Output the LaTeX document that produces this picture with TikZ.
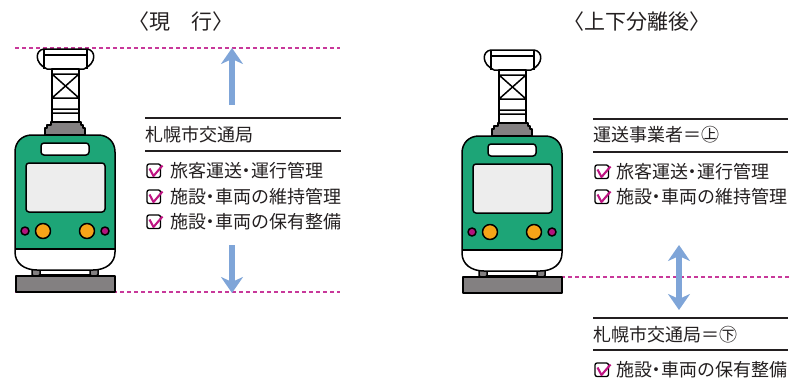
\documentclass[tikz,border=0pt]{standalone}
\usepackage{fontspec}
\newfontfamily\jp{Noto Sans CJK JP}
\newfontfamily\jphalt[RawFeature=+halt]{Noto Sans CJK JP}
\usetikzlibrary{arrows.meta}

\definecolor{tramgreen}{RGB}{29,165,119}
\definecolor{tramgrey}{RGB}{131,128,129}
\definecolor{lamporange}{RGB}{246,164,24}
\definecolor{lampmagenta}{RGB}{178,20,126}
\definecolor{glass}{RGB}{237,237,237}
\definecolor{guidepink}{RGB}{200,56,154}
\definecolor{arrowblue}{RGB}{127,165,216}
\definecolor{ink}{RGB}{35,31,32}
\definecolor{tick}{RGB}{190,20,130}

\tikzset{
  outline/.style={draw=black, line width=1.5pt, line join=round},
  guide/.style={draw=guidepink, line width=1.4pt, dash pattern=on 4pt off 3pt},
  movearrow/.style={draw=arrowblue, line width=6pt,
    -{Stealth[length=16pt,width=22pt,inset=5pt]}},
  bothways/.style={draw=arrowblue, line width=6pt,
    {Stealth[length=16pt,width=22pt,inset=5pt]}-{Stealth[length=16pt,width=22pt,inset=5pt]}},
  itemtext/.style={font=\jphalt\fontsize{18}{18}\selectfont, text=ink, inner sep=0pt, anchor=west},
  headtext/.style={font=\jp\fontsize{18}{18}\selectfont, text=ink, inner sep=0pt, anchor=west},
  titletext/.style={font=\jphalt\fontsize{21}{21}\selectfont, text=ink, inner sep=0pt},
  rule/.style={draw=ink, line width=1.2pt},
  checkbox/.pic={
    \draw[black, line width=1.3pt, rounded corners=2pt] (0,0) rectangle (13.5,13.5);
    \draw[tick, line width=2.1pt, line join=round] (2.5,4.5) -- (6.5,12) -- (15.5,1.5);
  },
  tram/.pic={
    % pantograph head
    \draw[outline, fill=white] (44,49) .. controls (35,50) and (34,63) .. (47,69)
      -- (84,69) .. controls (97,63) and (96,50) .. (87,49) -- cycle;
    \draw[outline] (44,49) -- (44,69) (87,49) -- (87,69) (44,55) -- (87,55);
    % lattice mast
    \draw[outline, fill=white] (52,69) rectangle (79,122);
    \draw[outline] (52,74) -- (79,74) (52,98) -- (79,98)
      (52,109) -- (79,109) (52,113) -- (79,113)
      (52,74) -- (79,98) (79,74) -- (52,98);
    % stepped base
    \draw[outline, fill=tramgrey] (51,122) -- (81,122) -- (81,125) -- (83,125) -- (83,128)
      -- (85,128) -- (85,135) -- (45,135) -- (45,128) -- (47,128) -- (47,125)
      -- (51,125) -- cycle;
    % bogie strip and wheels
    \draw[outline, fill=white] (36,269) rectangle (94,275);
    \draw[outline, fill=tramgrey, rounded corners=1.5pt] (32,266) rectangle (40,276);
    \draw[outline, fill=tramgrey, rounded corners=1.5pt] (90,266) rectangle (98,276);
    % body: green upper part, white skirt
    \fill[tramgreen] (15,249) -- (15,152)
      .. controls (15,142) and (22,135) .. (32,135) -- (98,135)
      .. controls (108,135) and (115,142) .. (115,152) -- (115,249) -- cycle;
    \fill[white] (15,249) -- (15,252) .. controls (15,263) and (24,270) .. (37,270)
      -- (93,270) .. controls (106,270) and (115,263) .. (115,252) -- (115,249) -- cycle;
    \draw[outline] (15,249) -- (15,152)
      .. controls (15,142) and (22,135) .. (32,135) -- (98,135)
      .. controls (108,135) and (115,142) .. (115,152) -- (115,252)
      .. controls (115,263) and (106,270) .. (93,270) -- (37,270)
      .. controls (24,270) and (15,263) .. (15,252) -- cycle;
    \draw[outline] (15,249) -- (115,249);
    % destination sign and windscreen
    \draw[outline, fill=white, rounded corners=3pt] (41,143) rectangle (89,155);
    \draw[outline, fill=glass, rounded corners=3pt] (26,163) rectangle (105,212);
    % lamps
    \draw[outline, fill=lampmagenta] (25,231) circle[radius=4];
    \draw[outline, fill=lamporange] (43,231) circle[radius=7.5];
    \draw[outline, fill=lamporange] (87,231) circle[radius=7.5];
    \draw[outline, fill=lampmagenta] (105,231) circle[radius=4];
    % track block
    \draw[outline, fill=tramgrey] (16,276) rectangle (115,292);
  }
}

\begin{document}
\begin{tikzpicture}[x=1pt, y=-1pt]
\useasboundingbox (0,0) rectangle (792,380);

% headings
\node[titletext] (titleA) at (181,22) {〈現　行〉};
\node[titletext] (titleB) at (637,22) {〈上下分離後〉};

% overhead-wire and rail levels
\draw[guide] (15,48) -- (340,48);
\draw[guide] (15,292) -- (340,292);
\draw[guide] (463,277) -- (790,277);

% trams
\pic at (0,0) {tram};
\pic at (447,1) {tram};

% current arrangement: one operator for everything
\coordinate (upFrom) at (232,105);
\coordinate (upTo) at (232,48);
\coordinate (downFrom) at (232,245);
\coordinate (downTo) at (232,293);
\draw[movearrow] (upFrom) -- (upTo);
\draw[movearrow] (downFrom) -- (downTo);

\draw[rule] (145,118) -- (341,118);
\node[headtext] (opA) at (145,135) {札幌市交通局};
\draw[rule] (145,151) -- (341,151);
\pic at (147,164) {checkbox};
\node[itemtext] (a1) at (170,171) {旅客運送・運行管理};
\pic at (147,190) {checkbox};
\node[itemtext] (a2) at (170,197) {施設・車両の維持管理};
\pic at (147,215) {checkbox};
\node[itemtext] (a3) at (170,222) {施設・車両の保有整備};

% after separation: upper and lower bodies
\coordinate (splitTop) at (679,245);
\coordinate (splitBottom) at (679,310);
\draw[bothways] (splitTop) -- (splitBottom);

\draw[rule] (593,119) -- (788,119);
\node[headtext] (opB) at (593,135) {運送事業者＝㊤};
\draw[rule] (593,152) -- (788,152);
\pic at (595,165) {checkbox};
\node[itemtext] (b1) at (616,172) {旅客運送・運行管理};
\pic at (595,190) {checkbox};
\node[itemtext] (b2) at (616,197) {施設・車両の維持管理};

\draw[rule] (593,318) -- (788,318);
\node[headtext] (opC) at (593,335) {札幌市交通局＝㊦};
\draw[rule] (593,350) -- (788,350);
\pic at (595,363) {checkbox};
\node[itemtext] (c1) at (616,370) {施設・車両の保有整備};
\end{tikzpicture}
\end{document}
